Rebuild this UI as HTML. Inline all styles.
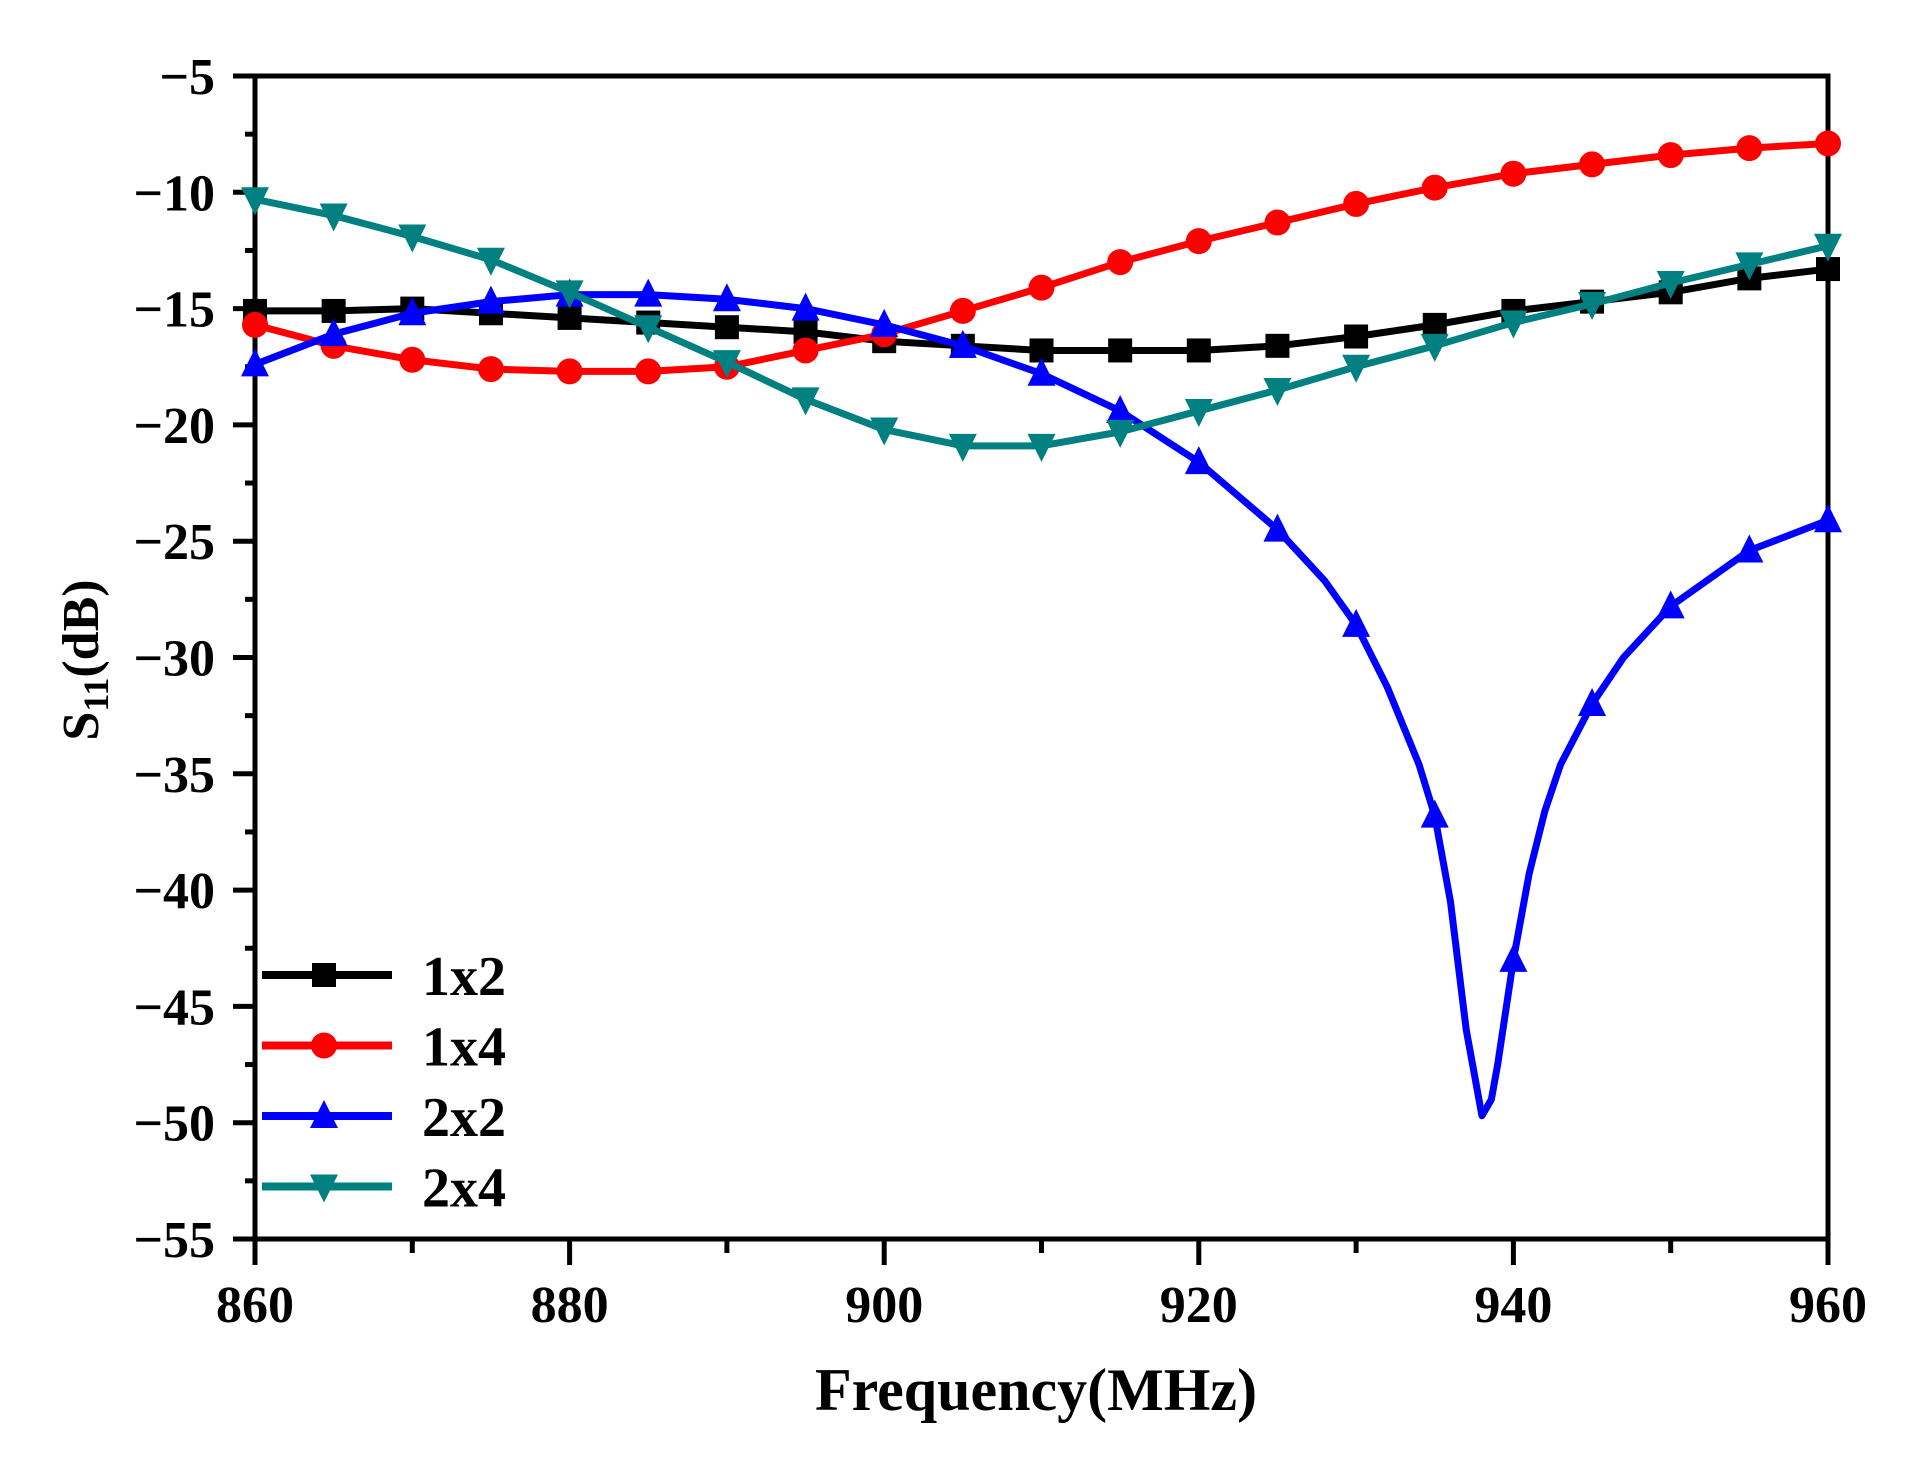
<!DOCTYPE html>
<html><head><meta charset="utf-8"><style>
html,body{margin:0;padding:0;background:#fff;}
svg{display:block;}
text{font-family:"Liberation Serif","Noto Serif CJK SC",serif;fill:#000;}
</style></head><body>
<svg id="s" width="1910" height="1458" viewBox="0 0 1910 1458" xmlns="http://www.w3.org/2000/svg">
<rect width="1910" height="1458" fill="#fff"/>
<g id="axes" stroke="#000" stroke-width="5" fill="none">
<rect x="255" y="76" width="1573" height="1163"/>
</g>
<g id="ticks" stroke="#000" stroke-width="5"></g>
<g id="labels" font-size="52" font-weight="bold"></g>
<g id="series"></g>
<text x="1036" y="1410" font-size="60" font-weight="bold" text-anchor="middle">Frequency(MHz)</text>
<text transform="translate(98,660) rotate(-90)" font-size="52" font-weight="bold" text-anchor="middle">S<tspan font-size="36" dy="10">11</tspan><tspan dy="-10">(dB)</tspan></text>
<g id="legend"></g>
</svg>
<script>
var NS="http://www.w3.org/2000/svg";
function X(f){return 255+(f-860)*15.73;}
function Y(v){return 76+(-5-v)*23.26;}
function el(p,t,a){var e=document.createElementNS(NS,t);for(var k in a)e.setAttribute(k,a[k]);p.appendChild(e);return e;}
var tk=document.getElementById('ticks'),lb=document.getElementById('labels');
for(var v=-5;v>=-55;v-=2.5){var y=Y(v);var maj=(v%5===0);el(tk,'line',{x1:maj?233:245,x2:255,y1:y,y2:y});
if(maj){var t=el(lb,'text',{x:215,y:y+18,'text-anchor':'end'});t.textContent=(v<0?'\u2212':'')+Math.abs(v);}}
for(var f=860;f<=960;f+=10){var x=X(f);var maj=(f%20===0);el(tk,'line',{x1:x,x2:x,y1:1239,y2:maj?1265:1253});
if(maj){var t=el(lb,'text',{x:x,y:1322,'text-anchor':'middle'});t.textContent=f;}}
var F=[860,865,870,875,880,885,890,895,900,905,910,915,920,925,930,935,940,945,950,955,960];
var S=[
{c:'#000',m:'sq',n:'1x2',d:[-15.1,-15.1,-15.0,-15.2,-15.4,-15.6,-15.8,-16.0,-16.4,-16.6,-16.8,-16.8,-16.8,-16.6,-16.2,-15.7,-15.1,-14.7,-14.3,-13.7,-13.3]},
{c:'#f00',m:'ci',n:'1x4',d:[-15.7,-16.6,-17.2,-17.6,-17.7,-17.7,-17.5,-16.8,-16.1,-15.1,-14.1,-13.0,-12.1,-11.3,-10.5,-9.8,-9.2,-8.8,-8.4,-8.1,-7.9]},
{c:'#00f',m:'up',n:'2x2',d:[-17.4,-16.1,-15.2,-14.7,-14.4,-14.4,-14.6,-15.0,-15.7,-16.6,-17.8,-19.4,-21.6,-24.5,-28.6,-36.8,-43.0,-32.0,-27.8,-25.4,-24.1],
 extra:[[860,-17.4],[865,-16.1],[870,-15.2],[875,-14.7],[880,-14.4],[885,-14.4],[890,-14.6],[895,-15.0],[900,-15.7],[905,-16.6],[910,-17.8],[915,-19.4],[920,-21.6],[925,-24.5],[928,-26.7],[930,-28.6],[932,-31.3],[934,-34.6],[935,-36.8],[936,-40.5],[937,-46],[938,-49.7],[938.6,-49],[939,-47.5],[940,-43.0],[941,-39.3],[942,-36.6],[943,-34.6],[945,-32.0],[947,-30],[950,-27.8],[955,-25.4],[960,-24.1]]},
{c:'#008080',m:'dn',n:'2x4',d:[-10.3,-11.0,-11.9,-12.9,-14.3,-15.8,-17.3,-18.9,-20.2,-20.9,-20.9,-20.3,-19.4,-18.5,-17.5,-16.6,-15.6,-14.8,-13.9,-13.1,-12.3]}];
var sg=document.getElementById('series'),lg=document.getElementById('legend');
function mk(g,m,x,y,c){var r=12;
if(m=='sq')el(g,'rect',{x:x-r,y:y-r,width:2*r,height:2*r,fill:c});
else if(m=='ci')el(g,'circle',{cx:x,cy:y,r:r+1,fill:c});
else if(m=='up')el(g,'polygon',{points:(x)+','+(y-r-4)+' '+(x-r-2)+','+(y+r)+' '+(x+r+2)+','+(y+r),fill:c});
else el(g,'polygon',{points:(x)+','+(y+r+4)+' '+(x-r-2)+','+(y-r)+' '+(x+r+2)+','+(y-r),fill:c});}
S.forEach(function(s,i){var pts=s.extra?s.extra.map(function(p){return X(p[0])+','+Y(p[1]);}):F.map(function(f,j){return X(f)+','+Y(s.d[j]);});
el(sg,'polyline',{points:pts.join(' '),fill:'none',stroke:s.c,'stroke-width':7,'stroke-linejoin':'round'});
F.forEach(function(f,j){mk(sg,s.m,X(f),Y(s.d[j]),s.c);});
var ly=975+i*70.5;el(lg,'line',{x1:262,x2:392,y1:ly,y2:ly,stroke:s.c,'stroke-width':8});mk(lg,s.m,324,ly,s.c);
var t=el(lg,'text',{x:422,y:ly+20,'font-size':56,'font-weight':'bold'});t.textContent=s.n;});
</script>
</body></html>
